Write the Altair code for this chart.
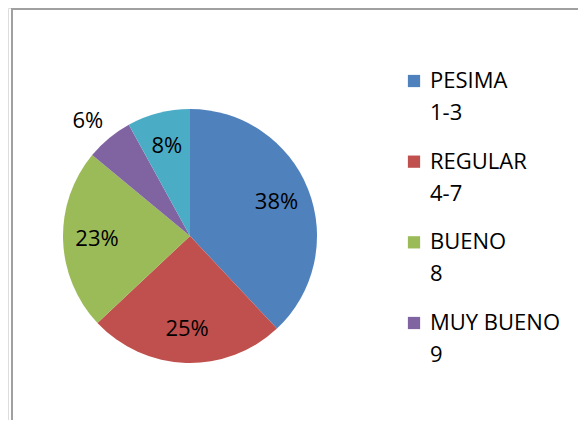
import altair as alt
import pandas as pd

line1 = ["PESIMA", "REGULAR", "BUENO", "MUY BUENO", "EXCELENTE"]
line2 = ["1-3", "4-7", "8", "9", "10"]
values = [38, 25, 23, 6, 8]
colors = ["#4F81BD", "#C0504D", "#9BBB59", "#8064A2", "#4BACC6"]
cats = [a + " " + b for a, b in zip(line1, line2)]

df = pd.DataFrame({
    "idx": list(range(len(values))),
    "cat": cats,
    "l1": line1,
    "l2": line2,
    "value": values,
})

CX, CY, R = 182, 228, 127
FONT = "Open Sans"
FS = 22

base = alt.Chart(df)
color = alt.Color("cat:N", scale=alt.Scale(domain=cats, range=colors), legend=None)
tscale = alt.Scale(domain=[0, 100], range=[0, 6.283185307])

pie = base.mark_arc(radius=R).encode(
    theta=alt.Theta("value:Q", stack=True, scale=tscale),
    color=color,
    order=alt.Order("idx:Q"),
    x=alt.value(CX),
    y=alt.value(CY),
)

lab = base.transform_window(
    cum="sum(value)", sort=[alt.SortField("idx")]
).transform_calculate(
    mid="datum.cum - datum.value / 2",
    txt="datum.value + '%'",
)

inner = lab.transform_filter("datum.value >= 7").mark_text(
    radius=93, font=FONT, fontSize=FS, color="black", align="center", baseline="middle"
).encode(
    theta=alt.Theta("mid:Q", scale=tscale),
    text="txt:N",
    x=alt.value(CX),
    y=alt.value(CY),
)

outer = lab.transform_filter("datum.value < 7").mark_text(
    radius=140, dx=-13, dy=-7, font=FONT, fontSize=FS, color="black", align="center", baseline="middle"
).encode(
    theta=alt.Theta("mid:Q", scale=tscale),
    text="txt:N",
    x=alt.value(CX),
    y=alt.value(CY),
)

leg = base.transform_filter("datum.idx < 4")
yleg = alt.Y("idx:Q", scale=alt.Scale(domain=[0, 3], range=[73, 315]), axis=None)

leg_sq = leg.mark_square(size=150, opacity=1).encode(
    x=alt.value(406), y=yleg, color=color
)
leg_t1 = leg.mark_text(align="left", baseline="middle", font=FONT, fontSize=FS, color="black").encode(
    x=alt.value(422), y=yleg, text="l1:N"
)
leg_t2 = leg.mark_text(align="left", baseline="middle", dy=32, font=FONT, fontSize=FS, color="black").encode(
    x=alt.value(422), y=yleg, text="l2:N"
)

one = alt.Chart(pd.DataFrame({"a": [0]}))
border_left = one.mark_rule(color="#a0a0a0", strokeWidth=2).encode(
    x=alt.value(4), y=alt.value(0), y2=alt.value(420)
)
border_top = one.mark_rule(color="#a0a0a0", strokeWidth=2).encode(
    x=alt.value(3), x2=alt.value(570), y=alt.value(1)
)

chart = alt.layer(
    border_left, border_top, pie, inner, outer, leg_sq, leg_t1, leg_t2
).properties(
    width=570, height=412, autosize=alt.AutoSizeParams(type="none"), padding=0
).configure_view(stroke=None).configure(background="white")

chart.save("out.html", embed_options={"renderer": "svg", "actions": False})
